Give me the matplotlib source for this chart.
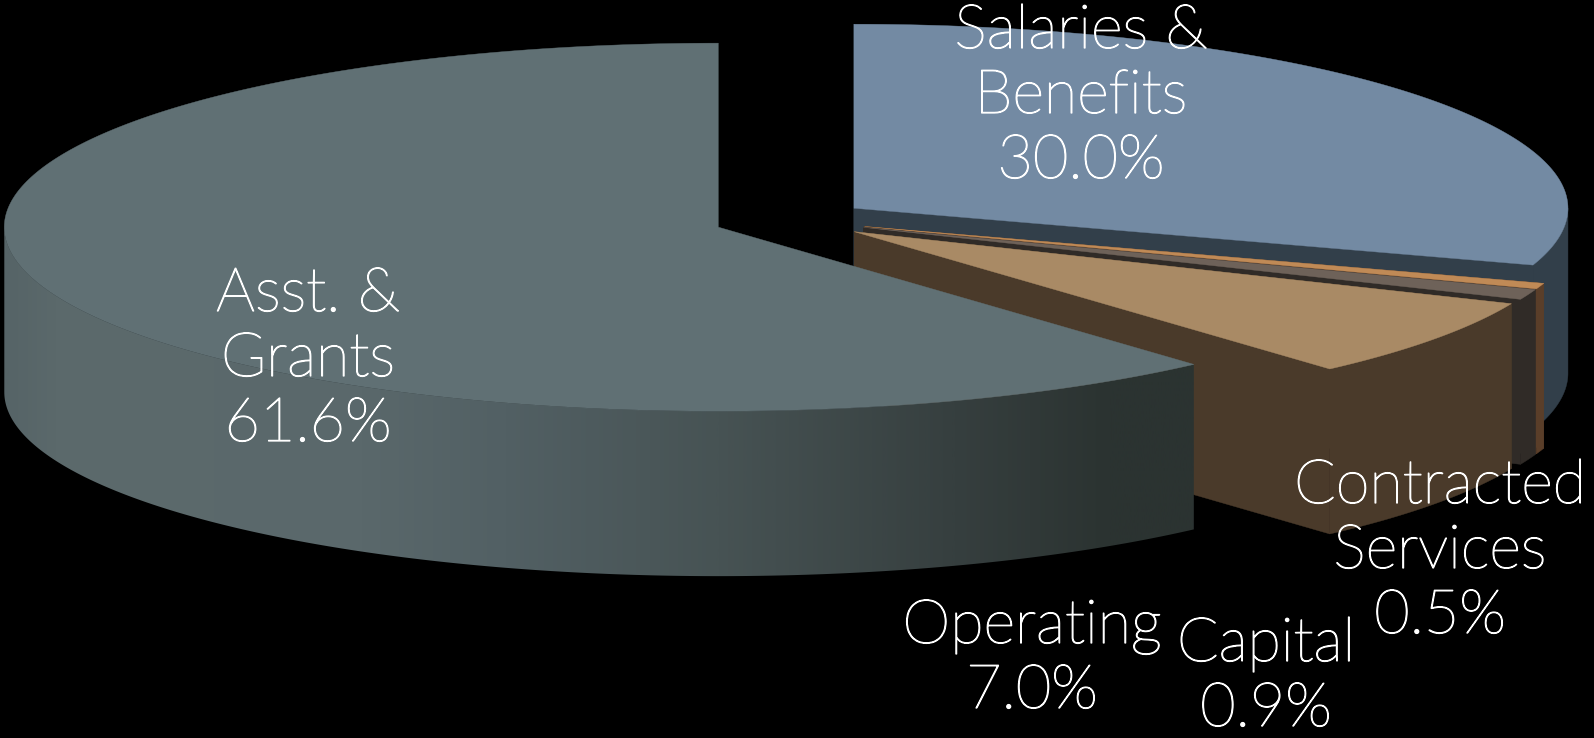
import numpy as np
import matplotlib
matplotlib.use('Agg')
import matplotlib.pyplot as plt
import matplotlib.patheffects as pe
from matplotlib.patches import Polygon
from matplotlib.colors import LinearSegmentedColormap


# budget shares, clockwise from 12 o'clock
categories = ['Salaries &\nBenefits', 'Contracted\nServices', 'Capital', 'Operating', 'Asst. &\nGrants']
shares = [30.0, 0.5, 0.9, 7.0, 61.6]
share_labels = ['30.0%', '0.5%', '0.9%', '7.0%', '61.6%']

top_colors = ['#738aa3', '#c08a56', '#6e6259', '#a98a65', '#607074']
side_colors = ['#323f4a', '#5a3e29', '#302b27', '#4a3a2a', None]

# wall shading of the big slice, left to right
wall_stops = [0.0, 0.05, 0.3, 0.42, 0.6, 0.8, 0.93, 1.0]
wall_colors = ['#566467', '#5c6a6c', '#5a686b', '#526064', '#475354', '#363f3f', '#2b3331', '#2b3331']

# pie geometry in pixels
cx, cy = 791, 220
rx, ry = 714, 184
depth = 165
explode = 0.109

# label centre and baseline of the last line
label_x = [1081, 1440, 1266, 1032, 308]
label_y = [178, 633, 726, 708, 441]


def arc(x0, y0, a0, a1, drop=0):
    t = np.radians(np.linspace(a0, a1, 300))
    return np.column_stack([x0 + rx*np.cos(t), y0 - ry*np.sin(t) + drop])


def draw_slice(ax, a0, a1, top, side, z):
    mid = np.radians((a0 + a1)/2)
    x0 = cx + explode*rx*np.cos(mid)
    y0 = cy - explode*ry*np.sin(mid)
    upper = arc(x0, y0, a0, a1)

    # only the front half of the outer wall can be seen
    hi, lo = min(a0, 0), max(a1, -180)
    rim = np.vstack([arc(x0, y0, hi, lo), arc(x0, y0, lo, hi, depth)])

    if side is None:
        patch = Polygon(rim, closed=True, fc='none', ec='none')
        ax.add_patch(patch)
        cmap = LinearSegmentedColormap.from_list('wall', list(zip(wall_stops, wall_colors)))
        img = ax.imshow(np.linspace(0, 1, 800).reshape(1, -1), cmap=cmap, aspect='auto',
                        extent=[rim[:, 0].min(), rim[:, 0].max(), 738, 0], zorder=z)
        img.set_clip_path(patch)
    else:
        for end in [upper[0], upper[-1]]:
            face = [(x0, y0), end, end + [0, depth], (x0, y0 + depth)]
            ax.add_patch(Polygon(face, closed=True, fc=side, ec=side, lw=0.3, zorder=z))
        ax.add_patch(Polygon(rim, closed=True, fc=side, ec=side, lw=0.3, zorder=z))
    ax.add_patch(Polygon(np.vstack([[x0, y0], upper]), closed=True, fc=top, ec=top, lw=0.3, zorder=z + 1))


fig = plt.figure(figsize=(15.94, 7.38), dpi=100, facecolor='black')
ax = fig.add_axes([0, 0, 1, 1])
ax.set_facecolor('black')

angle = 90
z = 2
for share, top, side in zip(shares, top_colors, side_colors):
    sweep = share/100*360
    draw_slice(ax, angle, angle - sweep, top, side, z)
    angle -= sweep
    z += 2

ax.set_xlim(0, 1594)
ax.set_ylim(738, 0)
ax.axis('off')

for name, pct, x, y in zip(categories, share_labels, label_x, label_y):
    ax.text(x, y, name + '\n' + pct, color='white', fontsize=44, family='Lato', weight='light',
            ha='center', va='baseline', linespacing=1.2, zorder=50,
            path_effects=[pe.withStroke(linewidth=0.9, foreground='white')])

fig.savefig('out.png', dpi=100, facecolor='black')
